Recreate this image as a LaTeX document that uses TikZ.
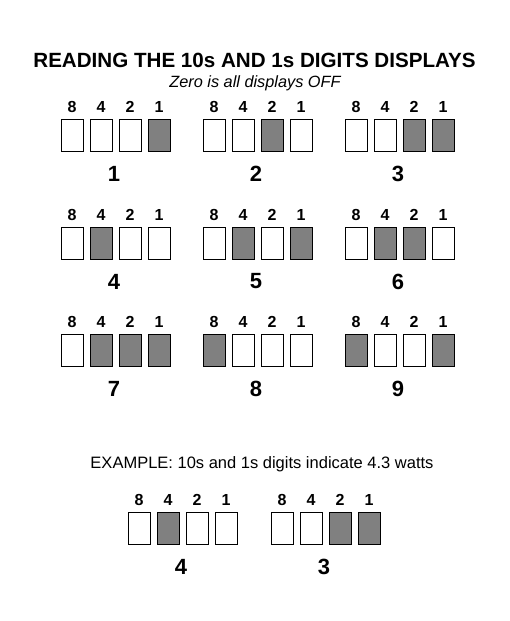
\documentclass[tikz,border=0pt]{standalone}
\usepackage{fontspec}
\setmainfont{Liberation Sans}
\definecolor{ongray}{RGB}{128,128,128}
\begin{document}
\begin{tikzpicture}[x=1pt,y=-1pt,
  cell/.style={draw=black,line width=0.9pt,minimum width=22pt,minimum height=32pt,inner sep=0pt,anchor=north west,fill=white},
  on/.style={fill=ongray},
  weight/.style={font=\bfseries\fontsize{16}{17}\selectfont,inner sep=0pt},
  value/.style={font=\bfseries\fontsize{22}{23}\selectfont,inner sep=0pt}]
\useasboundingbox (0,0) rectangle (510,621);
\node[font=\bfseries\fontsize{20.6}{21}\selectfont,inner sep=0pt] (title) at (254.5,60) {READING THE 10s AND 1s DIGITS DISPLAYS};
\node[font=\itshape\fontsize{16.3}{17}\selectfont,inner sep=0pt] (sub) at (255,83) {Zero is all displays OFF};
\foreach \n/\gx/\gy/\bits/\v in {
  g1/61/119/{0,0,0,1}/1, g2/203/119/{0,0,1,0}/2, g3/345/119/{0,0,1,1}/3,
  g4/61/227/{0,1,0,0}/4, g5/203/227/{0,1,0,1}/5, g6/345/227/{0,1,1,0}/6,
  g7/61/334/{0,1,1,1}/7, g8/203/334/{1,0,0,0}/8, g9/345/334/{1,0,0,1}/9,
  ea/128/512/{0,1,0,0}/4, eb/271/512/{0,0,1,1}/3}{
  \foreach \w [count=\i] in {8,4,2,1}{
    \node[weight] (\n w\i) at ({\gx+11+29*(\i-1)},{\gy-12}) {\w};
  }
  \foreach \b [count=\i] in \bits{
    \ifnum\b=1
      \node[cell,on] (\n c\i) at ({\gx+29*(\i-1)},\gy) {};
    \else
      \node[cell] (\n c\i) at ({\gx+29*(\i-1)},\gy) {};
    \fi
  }
  \node[value] (\n v) at ({\gx+53},{\gy+54.5}) {\v};
}
\node[font=\fontsize{16.5}{17}\selectfont,inner sep=0pt] (ex) at (262,464) {EXAMPLE: 10s and 1s digits indicate 4.3 watts};
\end{tikzpicture}
\end{document}
